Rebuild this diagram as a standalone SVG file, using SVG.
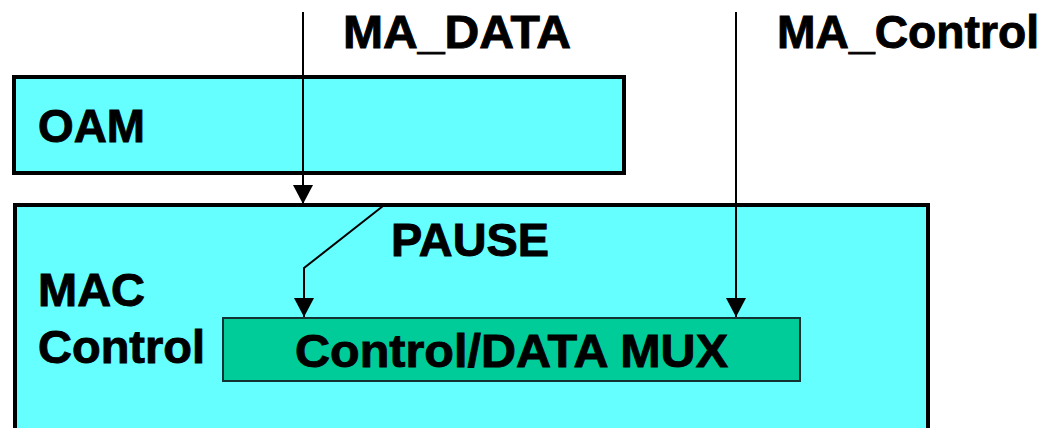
<svg xmlns="http://www.w3.org/2000/svg" width="1048" height="428" viewBox="0 0 1048 428">
  <style>
    text { font-family: Arial, "Liberation Sans", sans-serif; font-weight: 700; font-size: 46px; fill: #000; stroke: #000; stroke-width: 0.9; }
    .box { fill: #66FFFF; stroke: #000; stroke-width: 4; }
    .mux { fill: #00CC99; stroke: #133; stroke-width: 2; }
    .conn { fill: none; stroke: #000; stroke-width: 2; }
  </style>
  <defs>
    <marker id="arrd" markerUnits="userSpaceOnUse" markerWidth="20" markerHeight="19" viewBox="0 0 20 19" refX="10" refY="19" orient="0">
      <path d="M0,0 L20,0 L10,19 Z" fill="#000"/>
    </marker>
  </defs>
  <rect width="1048" height="428" fill="#fff"/>
  <g id="oam">
    <rect class="box" x="14" y="77" width="610" height="96"/>
    <text x="38" y="142" textLength="107" lengthAdjust="spacingAndGlyphs">OAM</text>
  </g>
  <g id="mac-control">
    <rect class="box" x="15" y="205" width="913" height="225"/>
    <text x="38" y="306" textLength="107" lengthAdjust="spacingAndGlyphs">MAC</text>
    <text x="38" y="363" textLength="167" lengthAdjust="spacingAndGlyphs">Control</text>
  </g>
  <g id="mux">
    <rect class="mux" x="223" y="318" width="577" height="63"/>
    <text x="295" y="367" textLength="433" lengthAdjust="spacingAndGlyphs">Control/DATA MUX</text>
  </g>
  <g id="connectors">
    <line class="conn" x1="303" y1="12" x2="303" y2="204" marker-end="url(#arrd)"/>
    <polyline class="conn" points="383,206 304,268 304,317" marker-end="url(#arrd)"/>
    <line class="conn" x1="736" y1="12" x2="736" y2="317" marker-end="url(#arrd)"/>
  </g>
  <g id="labels">
    <text x="343" y="48" textLength="228" lengthAdjust="spacingAndGlyphs">MA_DATA</text>
    <text x="777" y="48" textLength="262" lengthAdjust="spacingAndGlyphs">MA_Control</text>
    <text x="391" y="256" textLength="158" lengthAdjust="spacingAndGlyphs">PAUSE</text>
  </g>
</svg>
